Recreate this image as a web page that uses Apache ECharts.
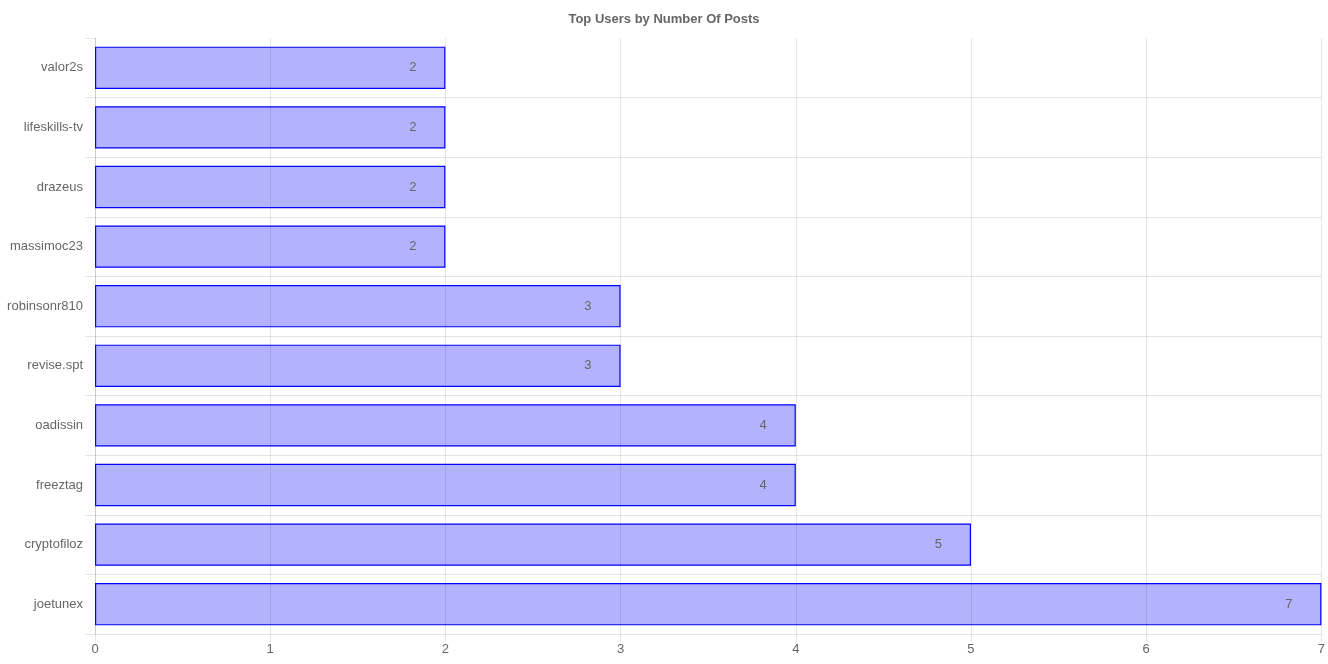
<!DOCTYPE html>
<html>
<head>
<meta charset="utf-8">
<script src="https://cdn.jsdelivr.net/npm/echarts@6/dist/echarts.min.js"></script>
<style>html,body{margin:0;padding:0;background:#fff;}#c{width:1328px;height:664px;}</style>
</head>
<body>
<div id="c"></div>
<script>
const titleText = 'Top Users by Number Of Posts';
const users = ['joetunex','cryptofiloz','freeztag','oadissin','revise.spt','robinsonr810','massimoc23','drazeus','lifeskills-tv','valor2s'];
const posts = [7,5,4,4,3,3,2,2,2,2];
const xTicks = [0,7,1];

const chart = echarts.init(document.getElementById('c'));
const font = 'Arial, "Liberation Sans", Helvetica, sans-serif';
chart.setOption({
  animation: false,
  title: {
    text: titleText, left: 'center', top: 8,
    textStyle: {fontFamily: font, fontSize: 13, fontWeight: 'bold', color: '#666'}
  },
  grid: {left: 95, right: 6, top: 38, bottom: 30, containLabel: false},
  xAxis: {
    type: 'value', min: xTicks[0], max: xTicks[1], interval: xTicks[2],
    axisLine: {show: false},
    axisTick: {show: true, length: 8, lineStyle: {color: 'rgba(0,0,0,0.1)'}},
    axisLabel: {color: '#666', fontFamily: font, fontSize: 13, margin: 9},
    splitLine: {show: true, lineStyle: {color: 'rgba(0,0,0,0.1)'}}
  },
  yAxis: {
    type: 'category', data: users, boundaryGap: true,
    axisLine: {show: true, lineStyle: {color: 'rgba(0,0,0,0.1)'}},
    axisTick: {show: true, length: 10, lineStyle: {color: 'rgba(0,0,0,0.1)'}},
    axisLabel: {color: '#666', fontFamily: font, fontSize: 13, margin: 12},
    splitLine: {show: true, showMaxLine: false, lineStyle: {color: 'rgba(0,0,0,0.1)'}}
  },
  series: [{
    type: 'bar', data: posts, barCategoryGap: '29%',
    itemStyle: {color: 'rgba(0,0,255,0.3)', borderColor: '#0000ff', borderWidth: 1.2},
    label: {show: true, position: 'insideRight', distance: 29, color: '#666', fontFamily: font, fontSize: 13}
  }]
});
</script>
</body>
</html>
